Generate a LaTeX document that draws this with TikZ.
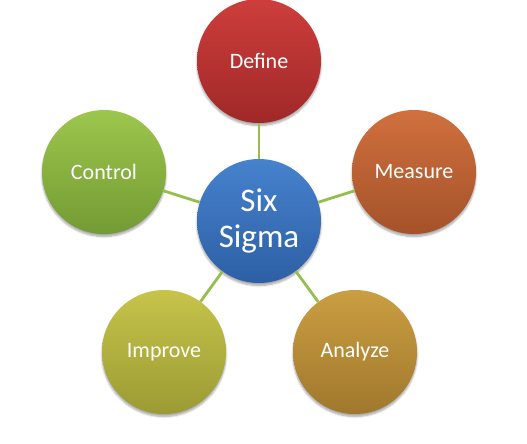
\documentclass[tikz,border=0pt]{standalone}
\usepackage{fontspec}
\setmainfont{Carlito}
\usetikzlibrary{shadows.blur}
\definecolor{link}{RGB}{148,190,78}
\tikzset{
  bubble/.style={circle, minimum size=124pt, inner sep=0pt, text=white,
    font=\fontsize{22}{26}\selectfont,
    blur shadow={shadow xshift=0pt, shadow yshift=-2.5pt, shadow blur steps=6, shadow opacity=35},
    shading=axis, shading angle=0},
  conn/.style={draw=link, line width=2.8pt},
}
\begin{document}
\begin{tikzpicture}[x=1pt,y=-1pt]
\useasboundingbox (0,0) rectangle (527,444);
\node[bubble, top color={rgb,255:red,70;green,130;blue,205}, bottom color={rgb,255:red,45;green,95;blue,165},
  font=\fontsize{33}{36}\selectfont, align=center] (c) at (259,221) {Six\\Sigma};
\node[bubble, top color={rgb,255:red,205;green,62;blue,60}, bottom color={rgb,255:red,160;green,40;blue,40}] (d) at (259,61) {Define};
\node[bubble, top color={rgb,255:red,208;green,112;blue,62}, bottom color={rgb,255:red,165;green,82;blue,42}] (m) at (414,172) {Measure};
\node[bubble, top color={rgb,255:red,202;green,158;blue,66}, bottom color={rgb,255:red,160;green,120;blue,45}] (a) at (355,352) {Analyze};
\node[bubble, top color={rgb,255:red,198;green,196;blue,74}, bottom color={rgb,255:red,155;green,155;blue,52}] (i) at (164,352) {Improve};
\node[bubble, top color={rgb,255:red,156;green,198;blue,76}, bottom color={rgb,255:red,115;green,155;blue,52}] (k) at (104,172) {Control};
\draw[conn] (c) -- (d);
\draw[conn] (c) -- (m);
\draw[conn] (c) -- (a);
\draw[conn] (c) -- (i);
\draw[conn] (c) -- (k);
\end{tikzpicture}
\end{document}
